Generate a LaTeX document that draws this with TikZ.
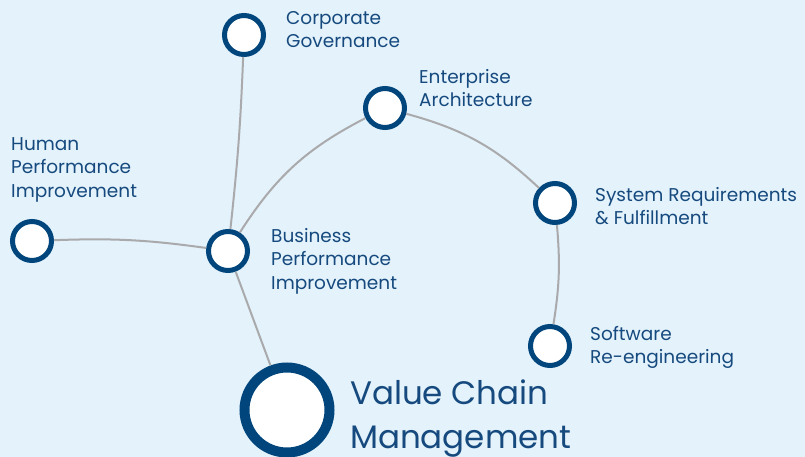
\documentclass[tikz,border=0pt]{standalone}
\usepackage{fontspec}
\setmainfont{Poppins}
\usepackage{xcolor}
\usepackage{tikz}
\definecolor{bgblue}{RGB}{227,242,251}
\definecolor{ringblue}{RGB}{0,69,124}
\definecolor{textblue}{RGB}{22,74,126}
\definecolor{linkgray}{RGB}{170,170,172}
\tikzset{
dot/.style={
  circle,
  draw=ringblue,
  fill=white,
  line width=5pt,
  inner sep=0pt,
  minimum size=39pt
},
bigdot/.style={dot,line width=10pt,minimum size=85pt},
lbl/.style={
  anchor=north west,
  inner sep=0pt,
  align=left,
  text=textblue,
  font=\fontsize{18.5}{23.5}\selectfont
},
biglbl/.style={lbl,font=\fontsize{32.5}{44}\selectfont},
link/.style={draw=linkgray,line width=2pt}
}

\begin{document}
\begin{tikzpicture}[x=1pt,y=-1pt]
\fill[bgblue] (0,0) rectangle (805,457);
\useasboundingbox (0,0) rectangle (805,457);
% the circles
\node[dot] (cg) at (244,35) {};
\node[dot] (ea) at (385,108) {};
\node[dot] (hpi) at (32,241) {};
\node[dot] (bpi) at (228,251) {};
\node[dot] (srf) at (555,203) {};
\node[dot] (sre) at (550,346) {};
\node[bigdot] (vcm) at (287,410) {};
% the labels
\node[lbl] (cg-l) at (286,11) {Corporate\\Governance};
\node[lbl] (ea-l) at (419,69) {Enterprise\\Architecture};
\node[lbl] (hpi-l) at (11,137) {Human\\Performance\\Improvement};
\node[lbl] (bpi-l) at (271,228) {Business\\Performance\\Improvement};
\node[lbl] (srf-l) at (595,187) {System Requirements\\\& Fulfillment};
\node[lbl] (sre-l) at (590,326) {Software\\Re-engineering};
\node[biglbl] (vcm-l) at (350,380) {Value Chain\\Management};
% the links
\begin{scope}[link]
\draw (cg) to[bend left=2] (bpi);
\draw (hpi) to[bend left=5] (bpi);
\draw (bpi) to[bend left=15] (ea);
\draw (ea) to[bend left=14] (srf);
\draw (srf) to[bend left=7] (sre);
\draw (bpi) -- (vcm);
\end{scope}
\end{tikzpicture}
\end{document}
